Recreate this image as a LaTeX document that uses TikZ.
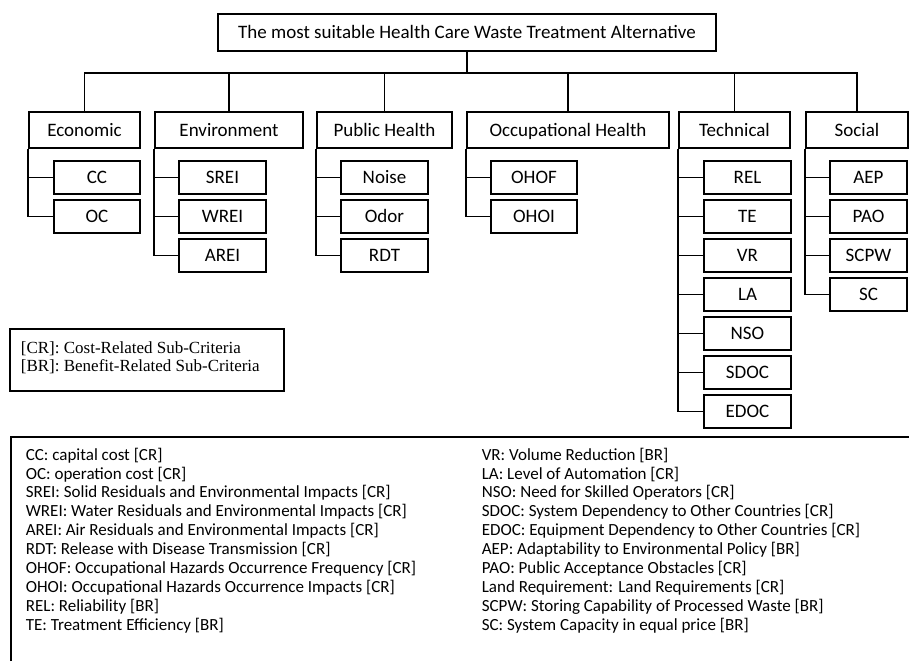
\documentclass[tikz,border=0pt]{standalone}
\usepackage{fontspec}
\setmainfont{Carlito}
\newfontfamily\legfont{Liberation Serif}
\begin{document}
\begin{tikzpicture}[x=1pt,y=-1pt,line width=1.7pt,
  box/.style={draw,rectangle,inner sep=0pt,font=\fontsize{19}{22}\selectfont,text height=14pt,text depth=2pt},
  catbox/.style={box,minimum height=36pt},
  subbox/.style={box,minimum height=33pt}]
\useasboundingbox (0,0) rectangle (909,661);
% top
\node[box,minimum width=498pt,minimum height=37pt] (top) at (467,32.5) {The most suitable Health Care Waste Treatment Alternative};
% categories
\node[catbox,minimum width=111pt] (eco) at (84.5,130) {Economic};
\node[catbox,minimum width=148pt] (env) at (229,130) {Environment};
\node[catbox,minimum width=135pt] (ph) at (384.5,130) {Public Health};
\node[catbox,minimum width=202pt] (oh) at (568,130) {Occupational Health};
\node[catbox,minimum width=111pt] (tech) at (734.5,130) {Technical};
\node[catbox,minimum width=102pt] (soc) at (857,130) {Social};
\coordinate (bus) at (467,73);
\draw (top.south) -- (bus);
\draw (eco.north) |- (bus) -| (soc.north);
\draw (env.north) -- (env.north |- bus);
\draw (ph.north) -- (ph.north |- bus);
\draw (oh.north) -- (oh.north |- bus);
\draw (tech.north) -- (tech.north |- bus);
% economic
\node[subbox,minimum width=86pt] (cc) at (97,177.5) {CC};
\node[subbox,minimum width=86pt] (oc) at (97,216.5) {OC};
\draw (eco.south west) |- (cc.west);
\draw (eco.south west) |- (oc.west);
% environment
\node[subbox,minimum width=87pt] (srei) at (222.5,177.5) {SREI};
\node[subbox,minimum width=87pt] (wrei) at (222.5,216.5) {WREI};
\node[subbox,minimum width=87pt] (arei) at (222.5,255.5) {AREI};
\draw (env.south west) |- (srei.west);
\draw (env.south west) |- (wrei.west);
\draw (env.south west) |- (arei.west);
% public health
\node[subbox,minimum width=87pt] (noise) at (384.5,177.5) {Noise};
\node[subbox,minimum width=87pt] (odor) at (384.5,216.5) {Odor};
\node[subbox,minimum width=87pt] (rdt) at (384.5,255.5) {RDT};
\draw (ph.south west) |- (noise.west);
\draw (ph.south west) |- (odor.west);
\draw (ph.south west) |- (rdt.west);
% occupational health
\node[subbox,minimum width=86pt] (ohof) at (534,177.5) {OHOF};
\node[subbox,minimum width=86pt] (ohoi) at (534,216.5) {OHOI};
\draw (oh.south west) |- (ohof.west);
\draw (oh.south west) |- (ohoi.west);
% technical
\node[subbox,minimum width=87pt] (rel) at (747.5,177.5) {REL};
\node[subbox,minimum width=87pt] (te) at (747.5,216.5) {TE};
\node[subbox,minimum width=87pt] (vr) at (747.5,255.5) {VR};
\node[subbox,minimum width=87pt] (la) at (747.5,294.5) {LA};
\node[subbox,minimum width=87pt] (nso) at (747.5,333.5) {NSO};
\node[subbox,minimum width=87pt] (sdoc) at (747.5,372.5) {SDOC};
\node[subbox,minimum width=87pt] (edoc) at (747.5,411.5) {EDOC};
\foreach \n in {rel,te,vr,la,nso,sdoc,edoc} \draw (tech.south west) |- (\n.west);
% social
\node[subbox,minimum width=77pt] (aep) at (868.5,177.5) {AEP};
\node[subbox,minimum width=77pt] (pao) at (868.5,216.5) {PAO};
\node[subbox,minimum width=77pt] (scpw) at (868.5,255.5) {SCPW};
\node[subbox,minimum width=77pt] (sc) at (868.5,294.5) {SC};
\foreach \n in {aep,pao,scpw,sc} \draw (soc.south west) |- (\n.west);
% legend
\node[draw,rectangle,minimum width=274pt,minimum height=62pt,inner sep=0pt] (leg) at (147,360) {};
\node[anchor=north west,inner sep=0pt,align=left,font=\legfont\fontsize{17}{18}\selectfont] (legtxt) at (20,341) {[CR]: Cost-Related Sub-Criteria\\{}[BR]: Benefit-Related Sub-Criteria};
% bottom frame
\coordinate (fbl) at (11,661);
\coordinate (ftr) at (909,437);
\draw (fbl) |- (ftr);
\node[anchor=north west,inner sep=0pt,align=left,font=\fontsize{17}{18.9}\selectfont] (colL) at (25,447) {CC: capital cost [CR]\\
OC: operation cost [CR]\\
SREI: Solid Residuals and Environmental Impacts [CR]\\
WREI: Water Residuals and Environmental Impacts [CR]\\
AREI: Air Residuals and Environmental Impacts [CR]\\
RDT: Release with Disease Transmission [CR]\\
OHOF: Occupational Hazards Occurrence Frequency [CR]\\
OHOI: Occupational Hazards Occurrence Impacts [CR]\\
REL: Reliability [BR]\\
TE: Treatment Efficiency [BR]};
\node[anchor=north west,inner sep=0pt,align=left,font=\fontsize{17}{18.9}\selectfont] (colR) at (481,447) {VR: Volume Reduction [BR]\\
LA: Level of Automation [CR]\\
NSO: Need for Skilled Operators [CR]\\
SDOC: System Dependency to Other Countries [CR]\\
EDOC: Equipment Dependency to Other Countries [CR]\\
AEP: Adaptability to Environmental Policy [BR]\\
PAO: Public Acceptance Obstacles [CR]\\
Land Requirement: Land Requirements [CR]\\
SCPW: Storing Capability of Processed Waste [BR]\\
SC: System Capacity in equal price [BR]};
\end{tikzpicture}
\end{document}
